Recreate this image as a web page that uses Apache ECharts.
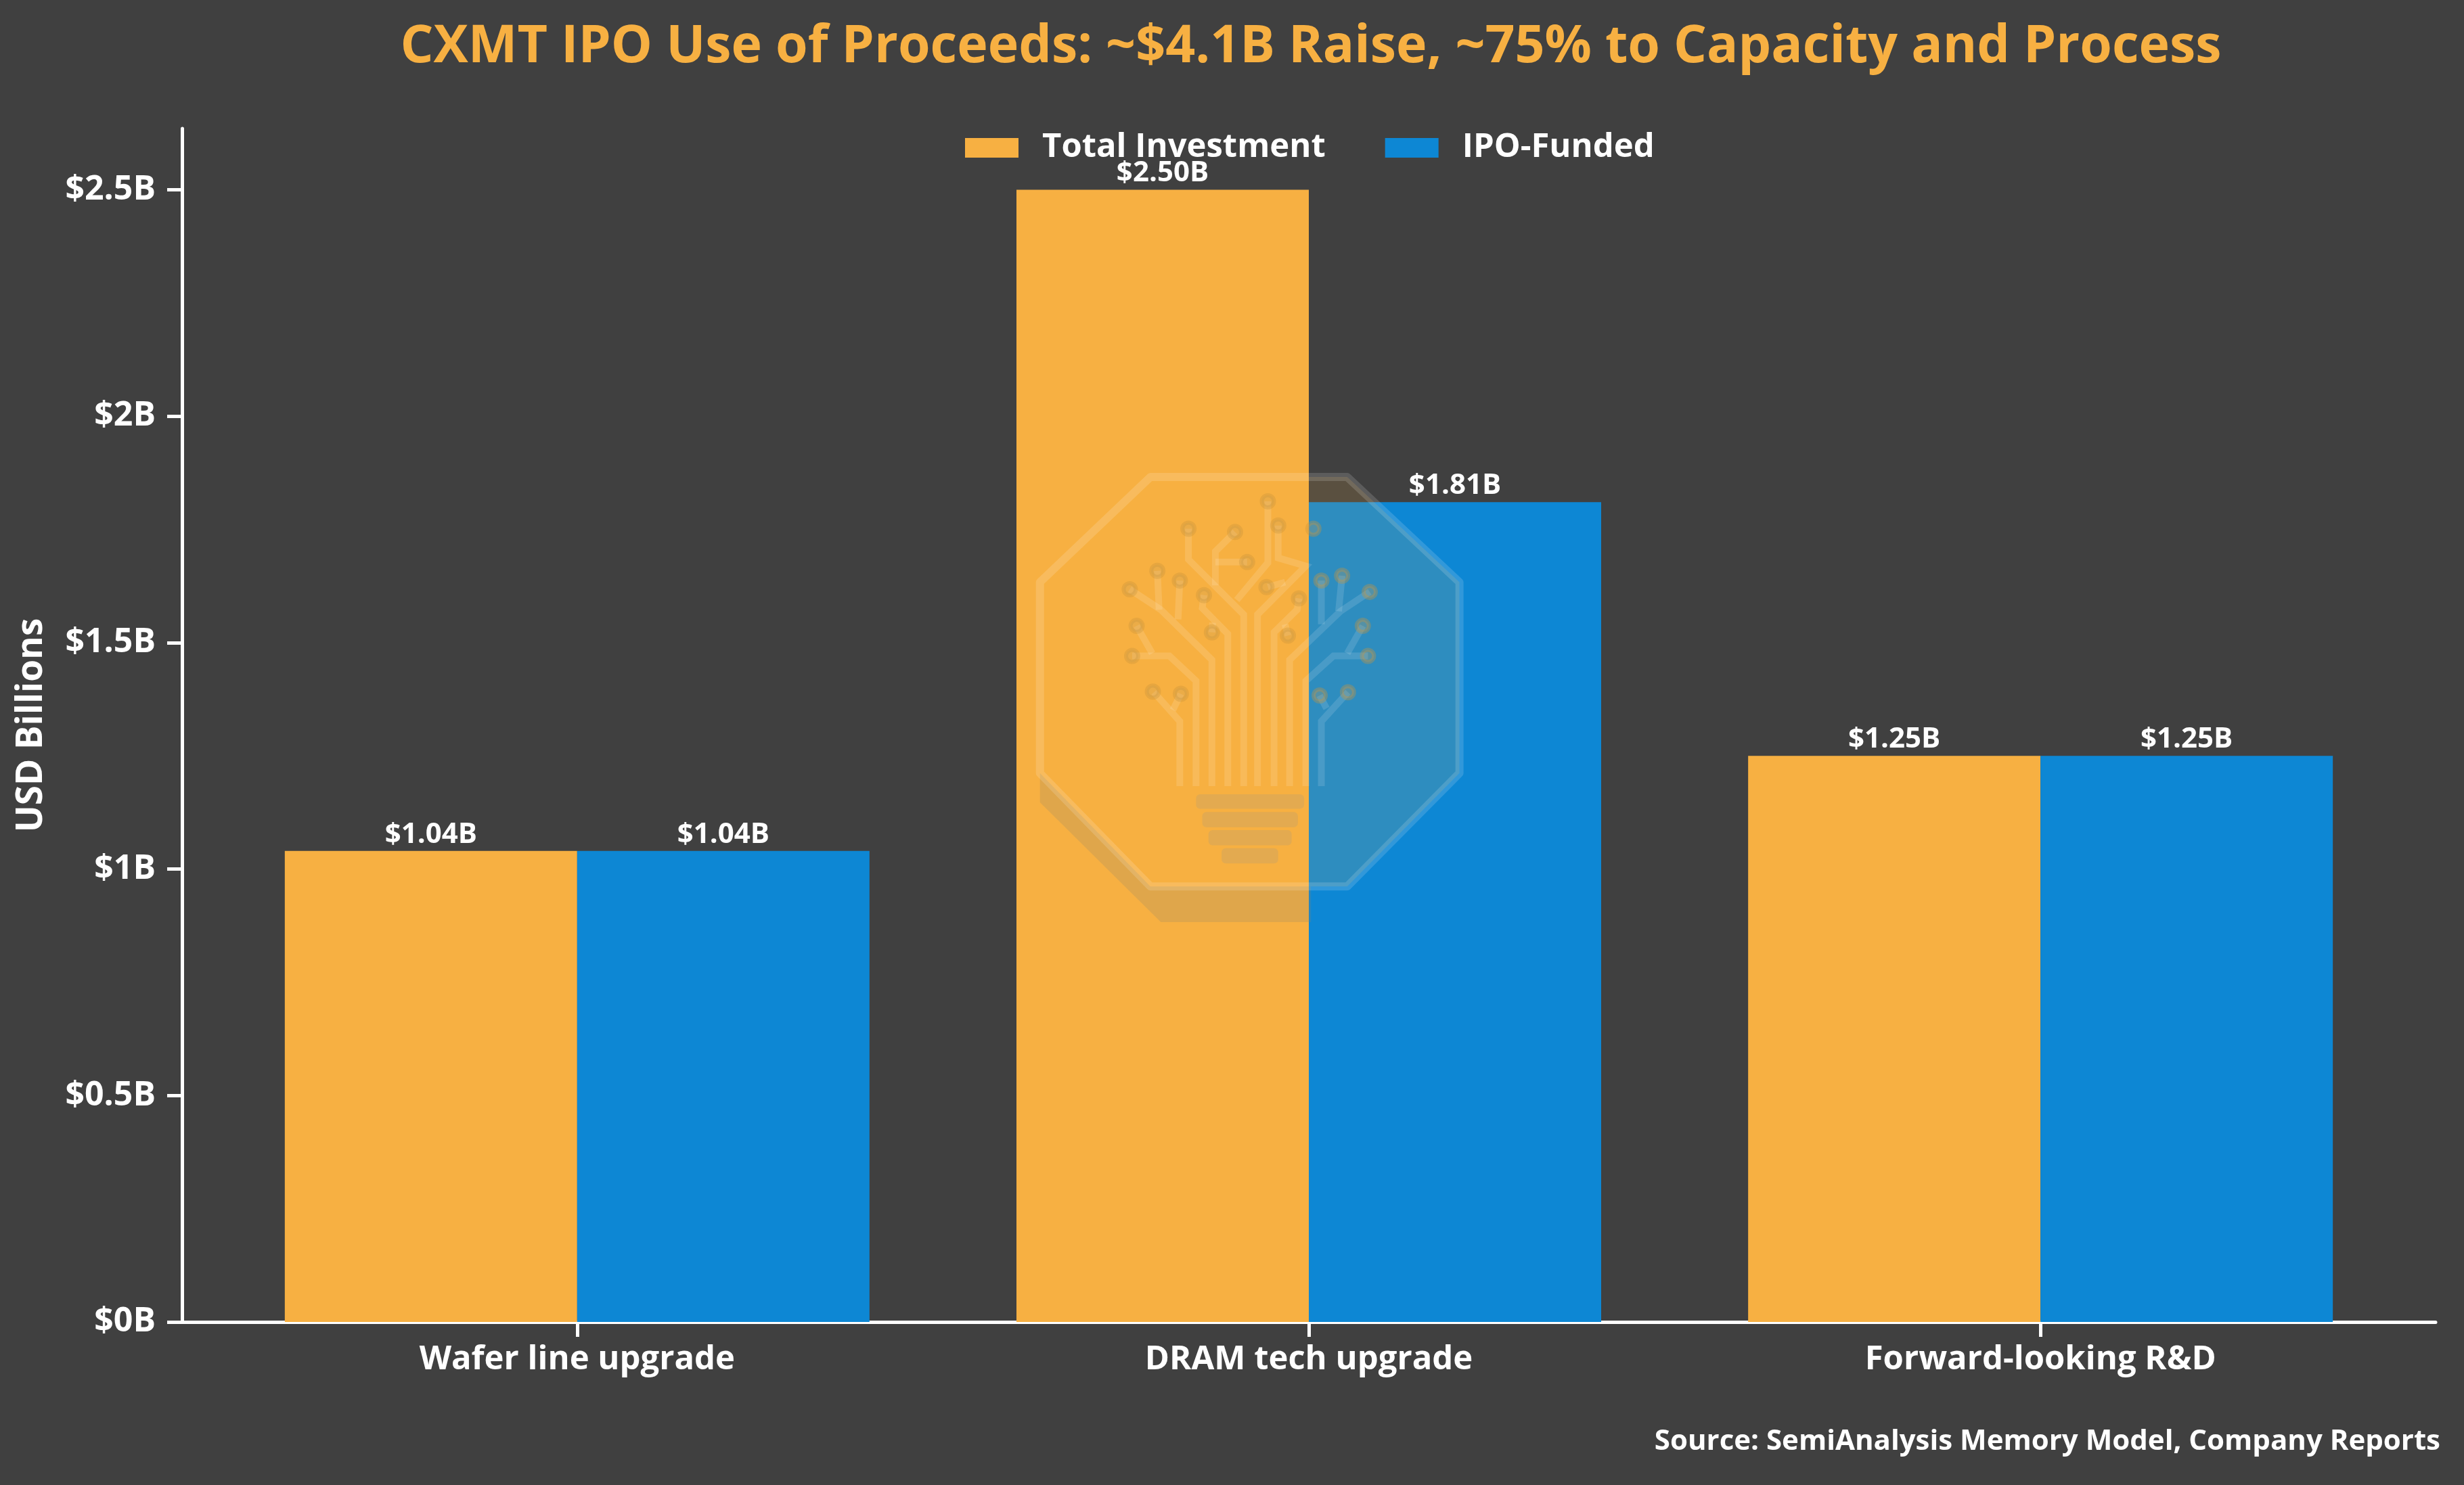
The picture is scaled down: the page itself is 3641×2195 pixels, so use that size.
<!DOCTYPE html>
<html>
<head>
<meta charset="utf-8">
<script src="https://cdn.jsdelivr.net/npm/echarts@6/dist/echarts.min.js"></script>
<style>
html,body{margin:0;padding:0;background:#404040;}
#chart{width:3641px;height:2195px;}
</style>
</head>
<body>
<div id="chart"></div>
<script>
// ---- data ----
const categories = ['Wafer line upgrade', 'DRAM tech upgrade', 'Forward-looking R&D'];
const totalInvestment = [1.04, 2.50, 1.25];
const ipoFunded = [1.04, 1.81, 1.25];
const yTicks = [0, 0.5, 1, 1.5, 2, 2.5];
const xTicks = [0, 1, 2];
const seriesNames = ['Total Investment', 'IPO-Funded'];
const titleText = 'CXMT IPO Use of Proceeds: ~$4.1B Raise, ~75% to Capacity and Process';
const sourceText = 'Source: SemiAnalysis Memory Model, Company Reports';

const ORANGE = '#F7B042';
const BLUE = '#0D87D4';
const FONT = 'Open Sans';

// ---- watermark (decorative) ----
function Z(x, y) { return [1450 + x / 1.96, 650 + y / 2.09]; }
const oct = [Z(490,115), Z(1060,115), Z(1385,440), Z(1385,1030), Z(1060,1380), Z(490,1380), Z(170,1030), Z(170,440)];
const shadow = [Z(170,1030), Z(170,1120), Z(520,1490), Z(955,1490), Z(955,1380), Z(490,1380)];
const circuitLines = [
  [Z(575,1070), Z(575,870), Z(500,780)],
  [Z(555,835), Z(578,785)],
  [Z(622,1070), Z(622,745), Z(545,668), Z(437,668)],
  [Z(495,660), Z(450,575)],
  [Z(668,1070), Z(668,680), Z(520,525), Z(430,462)],
  [Z(515,525), Z(510,405)],
  [Z(570,555), Z(575,435)],
  [Z(714,1070), Z(714,600), Z(640,520), Z(645,480)],
  [Z(670,565), Z(668,595)],
  [Z(760,1070), Z(760,540), Z(600,370), Z(600,275)],
  [Z(678,450), Z(678,345), Z(735,285)],
  [Z(678,378), Z(770,378)],
  [Z(800,1070), Z(800,540), Z(940,390), Z(860,365), Z(860,265)],
  [Z(740,495), Z(830,380), Z(830,190)],
  [Z(848,1070), Z(848,595), Z(915,525), Z(920,490)],
  [Z(880,570), Z(888,605)],
  [Z(893,1070), Z(893,680), Z(1040,530), Z(1125,470)],
  [Z(1035,530), Z(1045,420)],
  [Z(985,570), Z(985,435)],
  [Z(940,1070), Z(940,745), Z(1020,668), Z(1120,668)],
  [Z(1060,660), Z(1105,575)],
  [Z(985,1070), Z(985,870), Z(1062,780)],
  [Z(1000,830), Z(980,790)],
  [Z(880,440), Z(830,455)]
];
const circuitDots = [Z(497,778), Z(578,785), Z(437,668), Z(450,575), Z(430,462), Z(510,405), Z(575,435), Z(645,480), Z(668,595), Z(600,275), Z(735,285), Z(770,378), Z(860,265), Z(830,190), Z(920,490), Z(888,605), Z(1125,470), Z(1045,420), Z(985,435), Z(1120,668), Z(1105,575), Z(1062,780), Z(980,790), Z(826,455), Z(962,275)];
const baseBars = [[Z(622,1095), Z(935,1140)], [Z(640,1150), Z(917,1197)], [Z(658,1206), Z(899,1253)], [Z(696,1262), Z(860,1309)]];

const wm = [];
wm.push({type:'polygon', shape:{points:shadow}, style:{fill:'rgba(140,130,110,0.22)', lineJoin:'round'}, silent:true, z:50});
wm.push({type:'polygon', shape:{points:oct}, style:{fill:'rgba(247,176,66,0.14)', stroke:'rgba(255,255,255,0.15)', lineWidth:12, lineJoin:'round'}, silent:true, z:51});
circuitLines.forEach(p => wm.push({type:'polyline', shape:{points:p}, style:{stroke:'rgba(255,255,255,0.13)', lineWidth:10, fill:null}, silent:true, z:52}));
circuitDots.forEach(c => wm.push({type:'circle', shape:{cx:c[0], cy:c[1], r:9}, style:{fill:'rgba(200,160,90,0.25)', stroke:'rgba(200,150,60,0.35)', lineWidth:6}, silent:true, z:53}));
baseBars.forEach(b => wm.push({type:'rect', shape:{x:b[0][0], y:b[0][1], width:b[1][0]-b[0][0], height:b[1][1]-b[0][1], r:6}, style:{fill:'rgba(190,160,110,0.35)'}, silent:true, z:52}));

const chart = echarts.init(document.getElementById('chart'), null, {renderer:'canvas'});
const fmtVal = v => '$' + v.toFixed(2) + 'B';

const option = {
  backgroundColor: '#404040',
  animation: false,
  title: {
    text: titleText,
    left: 1937,
    textAlign: 'center',
    top: 32,
    padding: 0,
    textStyle: {color: ORANGE, fontFamily: FONT, fontWeight: 'bold', fontSize: 77}
  },
  legend: {
    data: seriesNames,
    left: 1426,
    top: 194,
    padding: 0,
    itemWidth: 79,
    itemHeight: 29,
    itemGap: 88,
    icon: 'rect',
    textStyle: {color: '#ffffff', fontFamily: FONT, fontWeight: 'bold', fontSize: 49, padding: [0, 0, 0, 30]}
  },
  grid: {left: 269, right: 42, top: 190, bottom: 241, containLabel: false},
  xAxis: {
    type: 'value',
    min: -0.54,
    max: 2.54,
    splitLine: {show: false},
    axisLine: {show: true, onZero: false, lineStyle: {color: '#ffffff', width: 5}},
    axisTick: {show: true, length: 22, lineStyle: {color: '#ffffff', width: 5}, customValues: xTicks},
    axisLabel: {
      customValues: xTicks,
      formatter: v => categories[Math.round(v)],
      color: '#ffffff', fontFamily: FONT, fontWeight: 'bold', fontSize: 49, margin: 32
    }
  },
  yAxis: {
    type: 'value',
    min: 0,
    max: 2.635,
    interval: 0.5,
    name: 'USD Billions',
    nameLocation: 'middle',
    nameGap: 196,
    nameTextStyle: {color: '#ffffff', fontFamily: FONT, fontWeight: 'bold', fontSize: 53},
    splitLine: {show: false},
    axisLine: {show: true, onZero: false, lineStyle: {color: '#ffffff', width: 5}},
    axisTick: {show: true, length: 22, lineStyle: {color: '#ffffff', width: 5}, customValues: yTicks},
    axisLabel: {
      customValues: yTicks,
      formatter: v => '$' + v + 'B',
      color: '#ffffff', fontFamily: FONT, fontWeight: 'bold', fontSize: 50, margin: 39
    }
  },
  series: [
    {
      name: seriesNames[0], type: 'bar',
      data: totalInvestment.map((v, i) => [i, v]),
      barWidth: 432, barGap: '0%',
      itemStyle: {color: ORANGE},
      label: {show: true, position: 'top', distance: 3, formatter: p => fmtVal(p.value[1]), color: '#ffffff', fontFamily: FONT, fontWeight: 'bold', fontSize: 42}
    },
    {
      name: seriesNames[1], type: 'bar',
      data: ipoFunded.map((v, i) => [i, v]),
      barWidth: 432, barGap: '0%',
      itemStyle: {color: BLUE},
      label: {show: true, position: 'top', distance: 3, formatter: p => fmtVal(p.value[1]), color: '#ffffff', fontFamily: FONT, fontWeight: 'bold', fontSize: 42}
    }
  ],
  graphic: [
    {type: 'group', children: wm, silent: true, z: 50},
    {type: 'text', right: 35, top: 2110, silent: true,
     style: {text: sourceText, fill: '#ffffff', font: 'bold 42px "Open Sans"', textAlign: 'right'}}
  ]
};
chart.setOption(option);
</script>
</body>
</html>
